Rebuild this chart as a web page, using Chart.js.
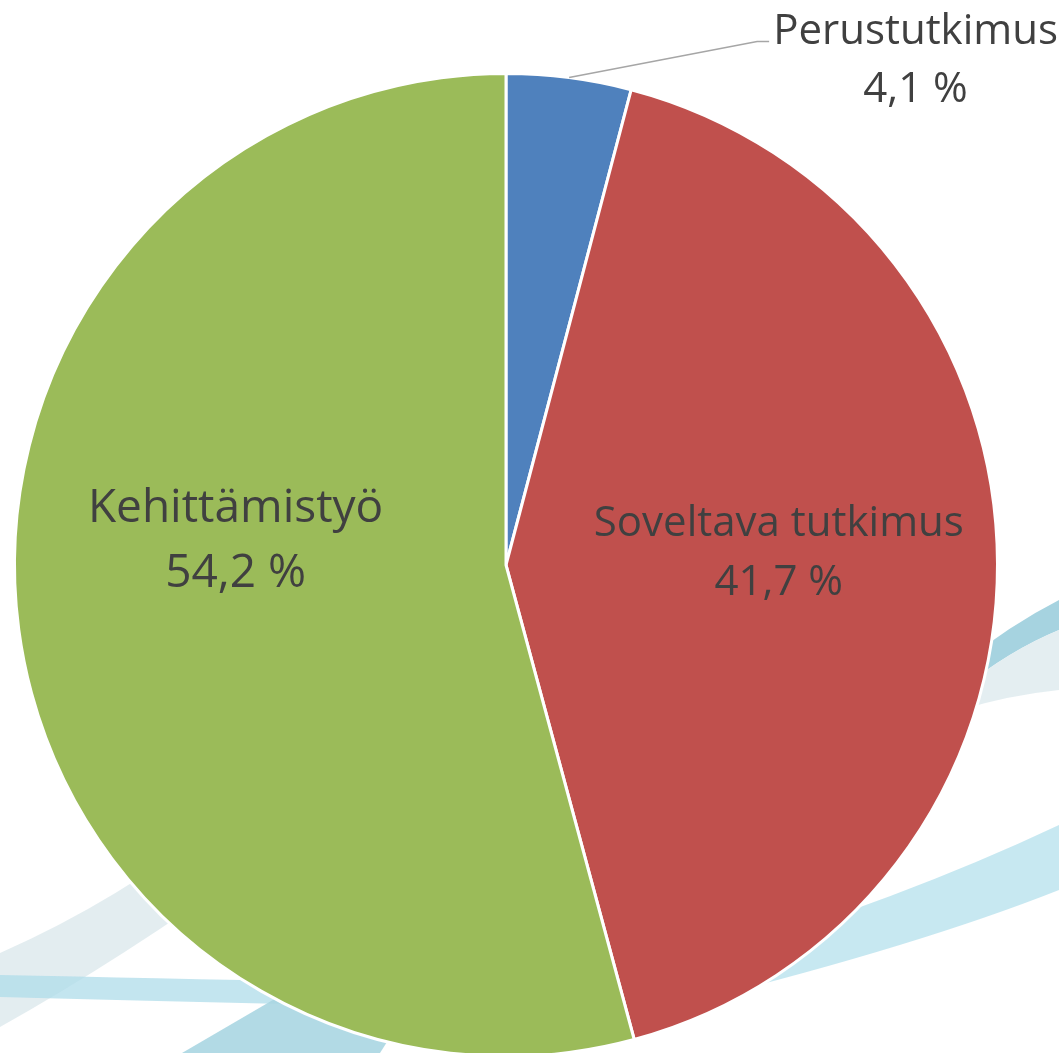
<!DOCTYPE html>
<html>
<head>
<meta charset="utf-8">
<script src="https://cdn.jsdelivr.net/npm/chart.js@4.4.1/dist/chart.umd.min.js"></script>
<style>
    html, body { margin: 0; padding: 0; background: #ffffff; overflow: hidden; }
    #kehys { position: absolute; left: 0; top: 0; width: 1059px; height: 1070px; }
</style>
</head>
<body>
<div id="kehys"><canvas id="piirakka"></canvas></div>
<script>
// ================== DATA ==================
const luokat = ['Perustutkimus', 'Soveltava tutkimus', 'Kehittämistyö'];
const osuudet = [4.1, 41.7, 54.2];
const varit = ['#4F81BD', '#C0504D', '#9BBB59'];

// tunnisteiden ulkoasu (fonttikoko, pystysiirto, riviväli)
const fonttiKoot = [42, 42, 46];
const pystySiirrot = [0, -16, -67];
const rivivalit = [58, 59, 65];
const tekstiVari = '#404040';

function fontti(koko) {
    return koko + 'px "Open Sans", "Noto Sans", sans-serif';
}

function prosentti(v) {
    return v.toFixed(1).replace('.', ',') + ' %';
}

// ================== TAUSTAN KAARET ==================
const taustaKaaret = {
    id: 'taustaKaaret',
    beforeDatasetsDraw(chart) {
        const c = chart.ctx;
        c.save();
        // ylä-oikea tumma kaista
        c.fillStyle = 'rgba(150,203,218,0.85)';
        c.beginPath();
        c.moveTo(960, 665);
        c.quadraticCurveTo(1010, 625, 1059, 600);
        c.lineTo(1059, 630);
        c.quadraticCurveTo(1010, 650, 960, 690);
        c.closePath();
        c.fill();
        // ylä-oikea harmaa kaista
        c.fillStyle = 'rgba(225,236,239,0.9)';
        c.beginPath();
        c.moveTo(960, 690);
        c.quadraticCurveTo(1010, 650, 1059, 630);
        c.lineTo(1059, 690);
        c.quadraticCurveTo(1010, 695, 960, 710);
        c.closePath();
        c.fill();
        // ala-oikea vaalea kaista
        c.fillStyle = 'rgba(185,226,238,0.8)';
        c.beginPath();
        c.moveTo(700, 960);
        c.quadraticCurveTo(900, 900, 1059, 825);
        c.lineTo(1059, 890);
        c.quadraticCurveTo(920, 945, 700, 1000);
        c.closePath();
        c.fill();
        // vasen harmaa vino kaista
        c.fillStyle = 'rgba(220,232,236,0.8)';
        c.beginPath();
        c.moveTo(0, 953);
        c.quadraticCurveTo(120, 900, 220, 820);
        c.lineTo(260, 860);
        c.quadraticCurveTo(120, 960, 0, 1027);
        c.closePath();
        c.fill();
        // vasen vaakasuora vaalea kaista
        c.fillStyle = 'rgba(175,220,234,0.75)';
        c.beginPath();
        c.moveTo(0, 975);
        c.quadraticCurveTo(150, 978, 330, 982);
        c.lineTo(330, 1005);
        c.quadraticCurveTo(150, 1001, 0, 997);
        c.closePath();
        c.fill();
        // alin tumma vino kaista
        c.fillStyle = 'rgba(170,214,226,0.9)';
        c.beginPath();
        c.moveTo(182, 1053);
        c.lineTo(290, 990);
        c.lineTo(420, 990);
        c.lineTo(380, 1053);
        c.closePath();
        c.fill();
        c.restore();
    }
};

// ================== TUNNISTEET ==================
const tunnisteet = {
    id: 'tunnisteet',
    afterDatasetsDraw(chart) {
        const c = chart.ctx;
        const kaaret = chart.getDatasetMeta(0).data;
        c.save();
        c.fillStyle = tekstiVari;
        c.textBaseline = 'alphabetic';
        c.textAlign = 'center';
        kaaret.forEach((a, i) => {
            const p = a.getProps(['x', 'y', 'startAngle', 'endAngle', 'outerRadius']);
            const kulma = (p.startAngle + p.endAngle) / 2;
            c.font = fontti(fonttiKoot[i]);
            if (osuudet[i] < 10) {
                // ulkopuolinen tunniste + viiva
                const x0 = p.x + Math.cos(kulma) * p.outerRadius;
                const y0 = p.y + Math.sin(kulma) * p.outerRadius;
                const x1 = x0 + 188, y1 = y0 - 36;
                c.strokeStyle = '#a6a6a6';
                c.lineWidth = 1.5;
                c.beginPath();
                c.moveTo(x0, y0);
                c.lineTo(x1, y1);
                c.lineTo(x1 + 12, y1);
                c.stroke();
                const kx = x1 + 12 + 4 + c.measureText(luokat[i]).width / 2;
                const ky = y1 + 2 + pystySiirrot[i];
                c.fillText(luokat[i], kx, ky);
                c.fillText(prosentti(osuudet[i]), kx, ky + rivivalit[i]);
            } else {
                const r = p.outerRadius * 0.555;
                const cx = p.x + Math.cos(kulma) * r;
                const cy = p.y + Math.sin(kulma) * r + pystySiirrot[i];
                c.fillText(luokat[i], cx, cy - 12);
                c.fillText(prosentti(osuudet[i]), cx, cy - 12 + rivivalit[i]);
            }
        });
        c.restore();
    }
};

// ================== KAAVIO ==================
const ctx = document.getElementById('piirakka');

const kaavio = new Chart(ctx, {
    type: 'pie',
    data: {
        labels: luokat,
        datasets: [{
            data: osuudet,
            backgroundColor: varit,
            borderColor: '#ffffff',
            borderWidth: 3
        }]
    },
    options: {
        responsive: true,
        maintainAspectRatio: false,
        animation: false,
        layout: {
            padding: { left: 13, right: 60, top: 72, bottom: 12 }
        },
        plugins: {
            legend: { display: false },
            tooltip: { enabled: false }
        }
    },
    plugins: [taustaKaaret, tunnisteet]
});
</script>
</body>
</html>
